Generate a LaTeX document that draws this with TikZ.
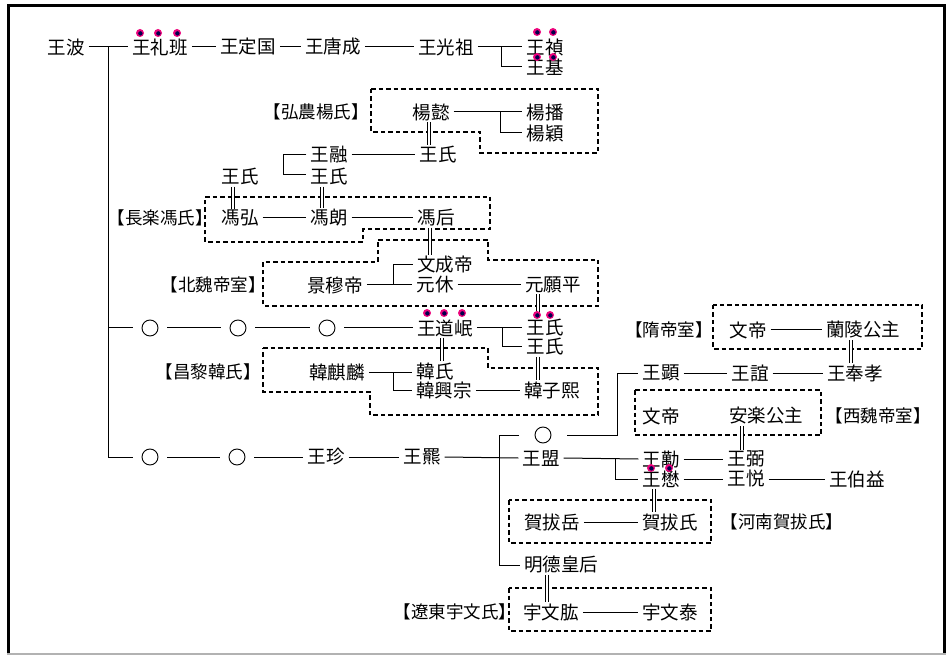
\documentclass[tikz,border=0pt]{standalone}
\usepackage{fontspec}
\newfontfamily\cjk{Noto Sans CJK JP}
\begin{document}
\begin{tikzpicture}[x=1pt,y=-1pt,
  t/.style={inner xsep=4pt, inner ysep=1pt, font=\cjk\fontsize{18.5}{19}\selectfont},
  lab/.style={inner sep=0pt, font=\cjk\fontsize{17.5}{18}\selectfont},
  ln/.style={line width=1pt},
  marr/.style={double distance=2.2pt, line width=0.9pt},
  dbox/.style={line width=1.1pt, dash pattern=on 4.5pt off 3pt},
  circ/.style={circle, draw, line width=0.9pt, minimum size=16pt, inner sep=0pt, outer sep=9pt},
  circw/.style={circ, outer sep=16pt},
  dotm/.style={fill=magenta!85!red}
]
\useasboundingbox (0,0) rectangle (946,655);
% frame
\draw[line width=3pt] (8.5,654) -- (8.5,5.5) -- (944.5,5.5) -- (944.5,654);
\draw[line width=1.5pt, black!30] (7,654) -- (946,654);

% ---------- nodes ----------
\node[t] (wb) at (66,47) {王波};
\node[t] (wlb) at (160,47) {王礼班};
\node[t] (wdg) at (248,47) {王定国};
\node[t] (wtc) at (333,47) {王唐成};
\node[t] (wgz) at (446,47) {王光祖};
\node[t] (wz) at (545,47) {王禎};
\node[t] (wj) at (545,67) {王基};

\node[lab] (lab1) at (316,112) {【弘農楊氏】};
\node[t] (yy) at (431,112) {楊懿};
\node[t] (yb) at (545,112) {楊播};
\node[t] (yyg) at (545,133) {楊穎};
\node[t] (ws1) at (438,155) {王氏};
\node[t] (wr) at (329,155) {王融};
\node[t] (ws2) at (329,177) {王氏};
\node[t] (ws3) at (240,177) {王氏};

\node[lab] (lab2) at (160,218) {【長楽馮氏】};
\node[t] (fh) at (240,218) {馮弘};
\node[t] (fl) at (329,218) {馮朗};
\node[t] (fhou) at (436,218) {馮后};

\node[lab] (lab3) at (213,285) {【北魏帝室】};
\node[t] (jmd) at (335,285) {景穆帝};
\node[t] (wcd) at (445,265) {文成帝};
\node[t] (yx) at (435,285) {元休};
\node[t] (yyp) at (553,285) {元願平};

\node[circ] (c1) at (150,328) {};
\node[circ] (c2) at (238,328) {};
\node[circ] (c3) at (327,328) {};
\node[t] (wdm) at (445,328) {王道岷};
\node[t] (ws4) at (545,328) {王氏};
\node[t] (ws5) at (545,347) {王氏};

\node[lab] (lab4) at (208,372) {【昌黎韓氏】};
\node[t] (hql) at (337,372) {韓麒麟};
\node[t] (hs) at (435,371) {韓氏};
\node[t] (hxz) at (444,390) {韓興宗};
\node[t] (hzx) at (552,390) {韓子熙};

\node[circ] (c4) at (150,457) {};
\node[circ] (c5) at (237,457) {};
\node[t] (wzh) at (326,457) {王珍};
\node[t] (wp) at (422,457) {王羆};
\node[circw] (c6) at (543,435) {};
\node[t] (wm) at (541,458) {王盟};

\node[lab] (lab5) at (669,330) {【隋帝室】};
\node[t] (wd1) at (748,330) {文帝};
\node[t] (llgz) at (863,330) {蘭陵公主};
\node[t] (wx) at (661,373) {王顕};
\node[t] (wy) at (750,373) {王誼};
\node[t] (wfx) at (855,373) {王奉孝};
\node[t] (wd2) at (661,416) {文帝};
\node[t] (algz) at (766,416) {安楽公主};
\node[lab] (lab6) at (878,416) {【西魏帝室】};

\node[t] (wmai) at (661,459) {王勱};
\node[t] (wmao) at (661,479) {王懋};
\node[t] (wbi) at (746,459) {王弼};
\node[t] (wyue) at (746,479) {王悦};
\node[t] (wby) at (857,479) {王伯益};

\node[t] (hby) at (552,522) {賀拔岳};
\node[t] (hbs) at (670,522) {賀拔氏};
\node[lab] (lab7) at (782,522) {【河南賀拔氏】};
\node[t] (mdhh) at (561,565) {明德皇后};
\node[lab] (lab8) at (455,612) {【遼東宇文氏】};
\node[t] (ywg) at (551,612) {宇文肱};
\node[t] (ywt) at (670,612) {宇文泰};

% ---------- dashed family boxes ----------
\draw[dbox] (371,89) -- (598,89) -- (598,153) -- (480,153) -- (480,132) -- (371,132) -- cycle;
\draw[dbox] (205,197) -- (490,197) -- (490,229) -- (363,229) -- (363,242) -- (205,242) -- cycle;
\draw[dbox] (378,240) -- (488,240) -- (488,260) -- (598,260) -- (598,306) -- (263,306) -- (263,262) -- (378,262) -- cycle;
\draw[dbox] (263,348) -- (488,348) -- (488,368) -- (598,368) -- (598,415) -- (370,415) -- (370,392) -- (263,392) -- cycle;
\draw[dbox] (713,305) rectangle (922,349);
\draw[dbox] (635,390) rectangle (821,435);
\draw[dbox] (509,500) rectangle (711,543);
\draw[dbox] (509,588) rectangle (711,631);

% ---------- connectors ----------
\coordinate (tr0) at (108,47);
\coordinate (tr1) at (108,328);
\coordinate (tr2) at (108,457);
\draw[ln] (wb.east) -- (wlb.west);
\draw[ln] (tr0) -- (tr2) -- (c4.west);
\draw[ln] (tr1) -- (c1.west);
\draw[ln] (wlb.east) -- (wdg.west);
\draw[ln] (wdg.east) -- (wtc.west);
\draw[ln] (wtc.east) -- (wgz.west);
\draw[ln] (wgz.east) -- (wz.west);
\coordinate (b1) at (501,47);
\draw[ln] (b1) |- (wj.west);

\draw[ln] (yy.east) -- (yb.west);
\coordinate (b2) at (500,112);
\draw[ln] (b2) |- (yyg.west);
\draw[marr] (yy.south -| 429,0) -- (ws1.north -| 429,0);

\draw[ln] (wr.east) -- (ws1.west);
\draw[ln] (wr.west) -- (283,155) -- (283,175) -- (ws2.west |- 0,175);
\draw[marr] (ws3.south -| 233,0) -- (fh.north -| 233,0);
\draw[marr] (ws2.south -| 322,0) -- (fl.north -| 322,0);

\draw[ln] (fh.east) -- (fl.west);
\draw[ln] (fl.east) -- (fhou.west);
\draw[marr] (fhou.south -| 430,0) -- (wcd.north -| 430,0);

\draw[ln] (jmd.east) -- (yx.west);
\coordinate (b3) at (393,285);
\draw[ln] (b3) |- (wcd.west);
\draw[ln] (yx.east) -- (yyp.west);
\draw[marr] (yyp.south -| 538,0) -- (ws4.north -| 538,0);

\draw[ln] (c1.east) -- (c2.west);
\draw[ln] (c2.east) -- (c3.west);
\draw[ln] (c3.east) -- (wdm.west);
\draw[ln] (wdm.east) -- (ws4.west);
\coordinate (b4) at (502,328);
\draw[ln] (b4) |- (ws5.west);
\draw[marr] (wdm.south -| 442,0) -- (hs.north -| 442,0);
\draw[marr] (ws5.south -| 538,0) -- (hzx.north -| 538,0);

\draw[ln] (hql.east) -- (hs.west |- hql.east);
\coordinate (b5) at (393,372);
\draw[ln] (b5) |- (hxz.west);
\draw[ln] (hxz.east) -- (hzx.west);

\draw[ln] (c4.east) -- (c5.west);
\draw[ln] (c5.east) -- (wzh.west);
\draw[ln] (wzh.east) -- (wp.west);
\draw[ln] (wp.east) -- (wm.west);
\coordinate (v1) at (499,435);
\coordinate (v2) at (499,565);
\draw[ln] (c6.west) -- (v1) -- (v2) -- (mdhh.west);
\coordinate (b6) at (617,435);
\draw[ln] (c6.east) -- (b6) |- (wx.west);

\draw[ln] (wx.east) -- (wy.west);
\draw[ln] (wy.east) -- (wfx.west);
\draw[ln] (wd1.east) -- (llgz.west);
\draw[marr] (llgz.south -| 851,0) -- (wfx.north -| 851,0);
\draw[marr] (algz.south -| 742,0) -- (wbi.north -| 742,0);

\draw[ln] (wm.east) -- (wmai.west);
\coordinate (b7) at (615,458);
\draw[ln] (b7) |- (wmao.west);
\draw[ln] (wmai.east) -- (wbi.west);
\draw[ln] (wmao.east) -- (wyue.west);
\draw[ln] (wyue.east) -- (wby.west);
\draw[marr] (wmao.south -| 654,0) -- (hbs.north -| 654,0);
\draw[ln] (hby.east) -- (hbs.west);
\draw[marr] (mdhh.south -| 547,0) -- (ywg.north -| 547,0);
\draw[ln] (ywg.east) -- (ywt.west);

% ---------- magenta marks ----------
\foreach \p in {(140,33),(158,33),(177,33),(537,32),(553,32),(537,57),(553,57),
                (427,313),(444,313),(462,313),(537,315),(550,315),(651,468),(669,468)} {
  \fill[dotm] \p circle (4);
  \fill[black!70!blue] \p ++(0.4,0.4) circle (2.2);
}
\end{tikzpicture}
\end{document}
